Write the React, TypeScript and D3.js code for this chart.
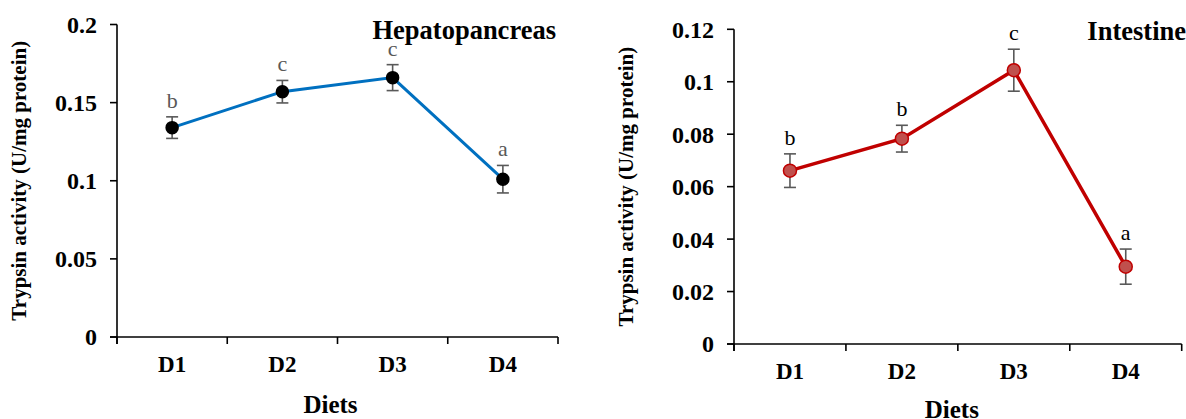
import React from 'react';
import * as d3 from 'd3';

const diets = ['D1', 'D2', 'D3', 'D4'];

const hepatoValues = [0.134, 0.157, 0.166, 0.101];
const hepatoErrors = [0.0069, 0.0072, 0.0083, 0.0088];
const hepatoLetters = ['b', 'c', 'c', 'a'];
const hepatoTicks = [0, 0.05, 0.1, 0.15, 0.2];

const intestineValues = [0.0661, 0.0783, 0.1044, 0.0295];
const intestineErrors = [0.0064, 0.0051, 0.008, 0.0067];
const intestineLetters = ['b', 'b', 'c', 'a'];
const intestineTicks = [0, 0.02, 0.04, 0.06, 0.08, 0.1, 0.12];

const yLabel = 'Trypsin activity (U/mg protein)';
const xLabel = 'Diets';

const SERIF = '"Liberation Serif", "Times New Roman", serif';

type PanelProps = {
  x0: number; x1: number; yTop: number; yBottom: number;
  ticks: number[]; values: number[]; errors: number[]; letters: string[];
  title: string; titleX: number; titleY: number;
  yLabelX: number; xLabelY: number; xLabelDx: number;
  lineColor: string; markerFill: string; markerStroke: string; markerR: number;
  lineWidth: number; letterColor: string;
};

function Panel(p: PanelProps) {
  const yMax = p.ticks[p.ticks.length - 1];
  const y = d3.scaleLinear().domain([0, yMax]).range([p.yBottom, p.yTop]);
  const x = d3.scaleBand<string>().domain(diets).range([p.x0, p.x1]).padding(0);
  const cx = (d: string) => (x(d) as number) + x.bandwidth() / 2;
  const pts = diets.map((d, i) => ({ d, v: p.values[i], e: p.errors[i], l: p.letters[i] }));
  const line = d3.line<{ d: string; v: number }>().x((q) => cx(q.d)).y((q) => y(q.v));
  const fmt = (v: number) => String(+v.toFixed(2));
  const boundaries = [...diets.map((d) => x(d) as number), p.x1];
  const midY = (p.yTop + p.yBottom) / 2;
  return (
    <g>
      <line x1={p.x0} x2={p.x0} y1={p.yTop} y2={p.yBottom + 7} stroke="#000" strokeWidth={1.6} />
      {p.ticks.map((t) => (
        <g key={t}>
          <line x1={p.x0 - 7} x2={p.x0} y1={y(t)} y2={y(t)} stroke="#000" strokeWidth={1.6} />
          <text x={p.x0 - 20} y={y(t)} dy="0.35em" textAnchor="end" fontFamily={SERIF} fontWeight="bold" fontSize={24} fill="#000">
            {fmt(t)}
          </text>
        </g>
      ))}
      <line x1={p.x0 - 7} x2={p.x1} y1={p.yBottom} y2={p.yBottom} stroke="#000" strokeWidth={1.6} />
      {boundaries.map((b, i) => (
        <line key={i} x1={b} x2={b} y1={p.yBottom} y2={p.yBottom + 7} stroke="#000" strokeWidth={1.6} />
      ))}
      {diets.map((d) => (
        <text key={d} x={cx(d)} y={p.yBottom + 35} textAnchor="middle" fontFamily={SERIF} fontWeight="bold" fontSize={23} fill="#000">
          {d}
        </text>
      ))}
      <text x={(p.x0 + p.x1) / 2 + p.xLabelDx} y={p.xLabelY} textAnchor="middle" fontFamily={SERIF} fontWeight="bold" fontSize={25} fill="#000">
        {xLabel}
      </text>
      <text transform={`translate(${p.yLabelX},${midY}) rotate(-90)`} textAnchor="middle" fontFamily={SERIF} fontWeight="bold" fontSize={21} fill="#000">
        {yLabel}
      </text>
      <text x={p.titleX} y={p.titleY} textAnchor="end" fontFamily={SERIF} fontWeight="bold" fontSize={26.5} fill="#000">
        {p.title}
      </text>
      <path d={line(pts) as string} fill="none" stroke={p.lineColor} strokeWidth={p.lineWidth} />
      {pts.map((q) => (
        <g key={q.d} stroke="#595959" strokeWidth={1.6}>
          <line x1={cx(q.d)} x2={cx(q.d)} y1={y(q.v + q.e)} y2={y(q.v - q.e)} />
          <line x1={cx(q.d) - 6} x2={cx(q.d) + 6} y1={y(q.v + q.e)} y2={y(q.v + q.e)} />
          <line x1={cx(q.d) - 6} x2={cx(q.d) + 6} y1={y(q.v - q.e)} y2={y(q.v - q.e)} />
        </g>
      ))}
      {pts.map((q) => (
        <circle key={q.d} cx={cx(q.d)} cy={y(q.v)} r={p.markerR} fill={p.markerFill} stroke={p.markerStroke} strokeWidth={1.5} />
      ))}
      {pts.map((q) => (
        <text key={q.d} x={cx(q.d)} y={y(q.v + q.e) - 9} textAnchor="middle" fontFamily={SERIF} fontSize={22} fill={p.letterColor}>
          {q.l}
        </text>
      ))}
    </g>
  );
}

export default function App() {
  return (
    <svg width={1186} height={419} style={{ position: 'absolute', left: 0, top: 0, background: '#fff' }}>
      <rect width={1186} height={419} fill="#fff" />
      <Panel
        x0={117} x1={558} yTop={24.5} yBottom={337}
        ticks={hepatoTicks} values={hepatoValues} errors={hepatoErrors} letters={hepatoLetters}
        title="Hepatopancreas" titleX={556} titleY={39}
        yLabelX={26} xLabelY={413} xLabelDx={-7}
        lineColor="#0070C0" markerFill="#000" markerStroke="#000" markerR={6} lineWidth={3}
        letterColor="#595959"
      />
      <Panel
        x0={734} x1={1181.7} yTop={29.3} yBottom={344}
        ticks={intestineTicks} values={intestineValues} errors={intestineErrors} letters={intestineLetters}
        title="Intestine" titleX={1186} titleY={40}
        yLabelX={633} xLabelY={418} xLabelDx={-6}
        lineColor="#C00000" markerFill="#C0504D" markerStroke="#C00000" markerR={6.5} lineWidth={3.5}
        letterColor="#000"
      />
    </svg>
  );
}
